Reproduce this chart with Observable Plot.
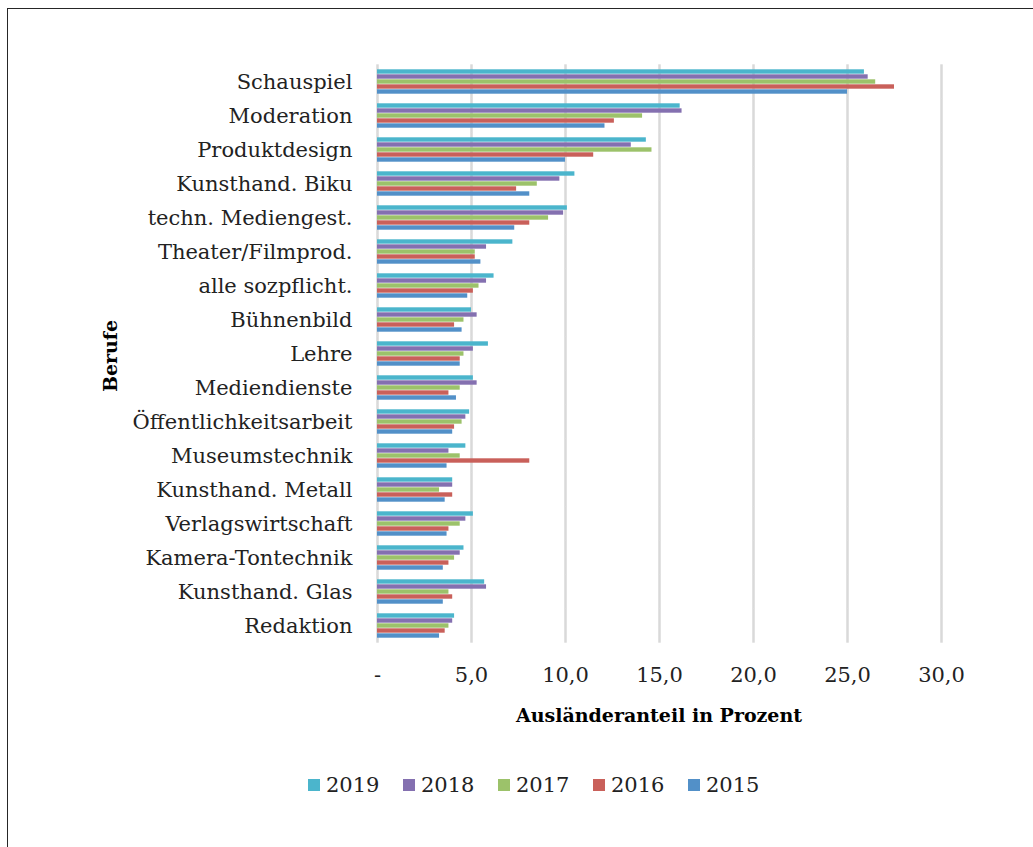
<!DOCTYPE html>
<html>
<head>
<meta charset="utf-8">
<script src="https://cdn.jsdelivr.net/npm/d3@7"></script>
<script src="https://cdn.jsdelivr.net/npm/@observablehq/plot@0.6"></script>
<style>
  html, body { margin: 0; padding: 0; background: #fff; }
  body { width: 1033px; height: 847px; position: relative; overflow: hidden; font-family: "DejaVu Serif", serif; }
  #frame { position: absolute; left: 7px; top: 8px; width: 1040px; height: 860px; border-top: 1px solid #262626; border-left: 1px solid #262626; box-sizing: border-box; }
  #chart { position: absolute; left: 0; top: 0; }
  .title { position: absolute; font-weight: bold; font-size: 19px; color: #000; white-space: nowrap; }
  #xtitle { left: 659px; top: 715px; transform: translate(-50%, -50%); }
  #ytitle { left: 110px; top: 356px; transform: translate(-50%, -50%) rotate(-90deg); }
  #legend { position: absolute; left: 0; top: 773px; width: 1033px; height: 26px; font-size: 21px; color: #222; }
  #legend .item { position: absolute; top: 0; display: flex; align-items: center; }
  #legend .sw { width: 12px; height: 12px; margin-right: 6px; }
</style>
</head>
<body>
<div id="frame"></div>
<div id="chart"></div>
<div id="xtitle" class="title">Ausländeranteil in Prozent</div>
<div id="ytitle" class="title">Berufe</div>
<div id="legend"></div>
<script>
const jobs = ["Schauspiel", "Moderation", "Produktdesign", "Kunsthand. Biku", "techn. Mediengest.",
  "Theater/Filmprod.", "alle sozpflicht.", "Bühnenbild", "Lehre", "Mediendienste",
  "Öffentlichkeitsarbeit", "Museumstechnik", "Kunsthand. Metall", "Verlagswirtschaft",
  "Kamera-Tontechnik", "Kunsthand. Glas", "Redaktion"];
const years = ["2019", "2018", "2017", "2016", "2015"];
const v2019 = [25.9, 16.1, 14.3, 10.5, 10.1, 7.2, 6.2, 5.0, 5.9, 5.1, 4.9, 4.7, 4.0, 5.1, 4.6, 5.7, 4.1];
const v2018 = [26.1, 16.2, 13.5, 9.7, 9.9, 5.8, 5.8, 5.3, 5.1, 5.3, 4.7, 3.8, 4.0, 4.7, 4.4, 5.8, 4.0];
const v2017 = [26.5, 14.1, 14.6, 8.5, 9.1, 5.2, 5.4, 4.6, 4.6, 4.4, 4.5, 4.4, 3.3, 4.4, 4.1, 3.8, 3.8];
const v2016 = [27.5, 12.6, 11.5, 7.4, 8.1, 5.2, 5.1, 4.1, 4.4, 3.8, 4.1, 8.1, 4.0, 3.8, 3.8, 4.0, 3.6];
const v2015 = [25.0, 12.1, 10.0, 8.1, 7.3, 5.5, 4.8, 4.5, 4.4, 4.2, 4.0, 3.7, 3.6, 3.7, 3.5, 3.5, 3.3];
const xTicks = [0, 5, 10, 15, 20, 25, 30];
const colors = ["#4bb5cc", "#8470b0", "#9cc26a", "#c9605a", "#5290c8"];

const series = {"2019": v2019, "2018": v2018, "2017": v2017, "2016": v2016, "2015": v2015};
const data = jobs.flatMap((job, i) => years.map(year => ({job, year, value: series[year][i]})));

const chart = Plot.plot({
  width: 1033,
  height: 700,
  marginLeft: 377,
  marginRight: 92,
  marginTop: 63,
  marginBottom: 57,
  style: {fontFamily: "DejaVu Serif, serif", fontSize: "21px", color: "#222", background: "transparent"},
  x: {domain: [0, 30], ticks: xTicks, tickSize: 0, tickPadding: 29, label: null,
      tickFormat: d => d === 0 ? "-" : d.toFixed(1).replace(".", ",")},
  y: {domain: years, axis: null, padding: 0},
  fy: {domain: jobs, padding: 0.27, axis: "left", tickSize: 0, tickPadding: 25, label: null},
  color: {domain: years, range: colors},
  marks: [
    Plot.ruleX(xTicks, {stroke: "#d9d9d9", strokeWidth: 2.5, insetTop: -4.7, insetBottom: -4.7}),
    Plot.barX(data, {x: "value", y: "year", fy: "job", fill: "year", insetTop: 0.3, insetBottom: 0.3})
  ]
});
document.getElementById("chart").appendChild(chart);

const legend = document.getElementById("legend");
years.forEach((y, i) => {
  const item = document.createElement("div");
  item.className = "item";
  item.style.left = (308 + i * 95) + "px";
  const sw = document.createElement("div");
  sw.className = "sw";
  sw.style.background = colors[i];
  const t = document.createElement("span");
  t.textContent = y;
  item.appendChild(sw);
  item.appendChild(t);
  legend.appendChild(item);
});
</script>
</body>
</html>
